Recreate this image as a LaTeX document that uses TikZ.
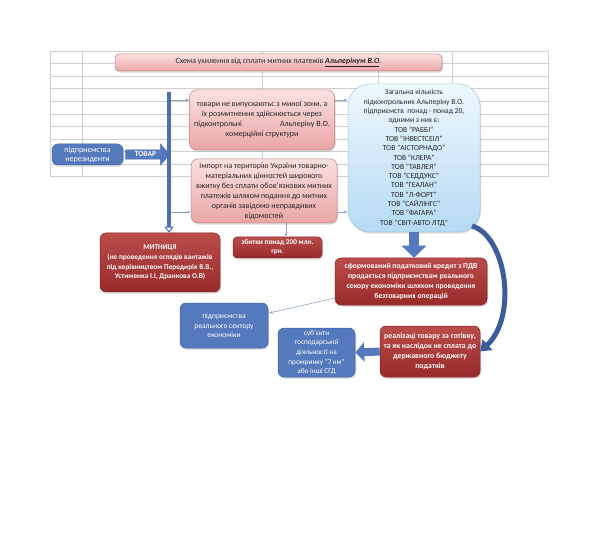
\documentclass[tikz,border=0pt]{standalone}
\usepackage{fontspec}
\setmainfont{Carlito}
\usetikzlibrary{arrows.meta,shapes.arrows,shadows,calc}
\definecolor{pinktop}{HTML}{FBE1E1}
\definecolor{pinkbot}{HTML}{EBA5A6}
\definecolor{pinkborder}{HTML}{C27C7C}
\definecolor{lbtop}{HTML}{EEF8FE}
\definecolor{lbbot}{HTML}{B5DAF4}
\definecolor{lbborder}{HTML}{9FC4DF}
\definecolor{redtop}{HTML}{BA4C4A}
\definecolor{redbot}{HTML}{982A2A}
\definecolor{redborder}{HTML}{8C2424}
\definecolor{bluefill}{HTML}{5479BD}
\definecolor{blueborder}{HTML}{3F629F}
\definecolor{barblue}{HTML}{4C70B4}
\definecolor{navyarr}{HTML}{3D5C9C}
\definecolor{thinarr}{HTML}{8DA3C3}
\definecolor{gridcol}{HTML}{CFCFCF}
\tikzset{
  gridline/.style={draw=gridcol, line width=0.6pt},
  shad/.style={drop shadow={opacity=0.3, shadow xshift=1pt, shadow yshift=-1.6pt}},
  pinkbox/.style={draw=pinkborder, line width=0.5pt, rounded corners=7pt, top color=pinktop, bottom color=pinkbot, align=center, inner sep=2pt, text=black!85, font=\fontsize{8}{10}\selectfont, shad},
  lbbox/.style={draw=lbborder, line width=0.5pt, rounded corners=22pt, top color=lbtop, bottom color=lbbot, align=center, inner sep=2pt, text=black!85, font=\fontsize{7.6}{9.3}\selectfont, shad},
  redbox/.style={draw=redborder, line width=0.5pt, rounded corners=6pt, top color=redtop, bottom color=redbot, align=center, inner sep=2pt, text=white, font=\fontsize{7.3}{9.6}\selectfont\bfseries, shad},
  bluebox/.style={draw=blueborder, line width=0.5pt, rounded corners=6pt, fill=bluefill, align=center, inner sep=2pt, text=white, font=\fontsize{7.5}{9.8}\selectfont, shad},
  thinarrow/.style={draw=thinarr, line width=0.6pt, -{Stealth[length=4pt,width=3pt]}},
}
\begin{document}
\begin{tikzpicture}[x=1pt,y=-1pt]
\useasboundingbox (0,0) rectangle (600,556);
% spreadsheet grid
\foreach \k in {0,...,10} \draw[gridline] (50,{51+12.57*\k}) -- (548,{51+12.57*\k});
\foreach \xx in {50,82,262,378,452,548} \draw[gridline] (\xx,51) -- (\xx,176.7);

% title
\node[pinkbox, rounded corners=4pt, minimum width=327pt, minimum height=17pt, font=\fontsize{7.9}{9.5}\selectfont] (title) at (278.5,62.5)
  {Схема ухилення від сплати митних платежів \textbf{\textit{\underline{Альперінум В.О}}}.};

% left
\node[bluebox, minimum width=71pt, minimum height=21pt, font=\fontsize{8}{9}\selectfont] (nonres) at (87.5,154.5)
  {підприємства\\нерезиденти};
\node[single arrow, fill=bluefill, draw=blueborder, line width=0.4pt, minimum height=44pt, minimum width=21pt,
  single arrow head extend=4.5pt, single arrow tip angle=100, inner sep=1pt, text=white,
  font=\fontsize{7.5}{9}\selectfont\bfseries] (tovar) at (145.5,154.5) {ТОВАР\hspace{4pt}};

% main boxes
\node[pinkbox, minimum width=145pt, minimum height=60pt] (box1) at (262,120)
  {товари не випускаютьс з миної зони, а\\їх розмитнення здійснюється через\\підконтрольні\hspace{38pt}Альперіну В.О.\\комерційні структури};
\node[pinkbox, minimum width=146pt, minimum height=64pt] (box2) at (264,191)
  {імпорт на територію України товарно-\\матеріальних цінностей широкого\\вжитку без сплати обовʼязкових митних\\платежів шляхом подання до митних\\органів завідомо неправдивих\\відомостей};
\node[lbbox, minimum width=132pt, minimum height=148pt] (blue) at (414,158)
  {Загальна кількість\\підконтрольних Альперіну В.О.\\підприємств\ \ понад - понад 20,\\одними з них є:\\ТОВ "РАББІ"\\ТОВ "ІНВЕСТСЕІЛ"\\ТОВ "АІСТОРНАДО"\\ТОВ "КЛЕРА"\\ТОВ "ТАВЛЕЯ"\\ТОВ "СЕДДУКС"\\ТОВ "ГЕАЛАН"\\ТОВ "Л-ФОРТ"\\ТОВ "САЙЛІНГС"\\ТОВ "ФАГАРА"\\ТОВ "СВІТ-АВТО ЛТД"};

\node[redbox, minimum width=120pt, minimum height=59pt] (mytn) at (160,262.5)
  {МИТНИЦЯ\\(не проведення оглядів вантажів\\під керівництвом Передирія В.В.,\\Устименка І.І, Дранкова О.В)};
\node[redbox, minimum width=89pt, minimum height=21pt, rounded corners=4pt, font=\fontsize{7.3}{9}\selectfont\bfseries] (loss) at (277.5,247.5)
  {збитки понад 200 млн.\\грн.};
\node[redbox, minimum width=152pt, minimum height=47pt, font=\fontsize{7.6}{9.8}\selectfont\bfseries] (credit) at (411,281.5)
  {сформований податковий кредит з ПДВ\\продається підприємствам реального\\секору економіки шляхом проведення\\безтоварних операцій};
\node[redbox, minimum width=100pt, minimum height=51pt, font=\fontsize{7.8}{9.8}\selectfont\bfseries] (real) at (430,351.5)
  {реалізаці товару за готівку,\\та як наслідок не сплата до\\державного бюджету\\податків};
\node[bluebox, minimum width=77pt, minimum height=49pt, font=\fontsize{7.3}{9.6}\selectfont] (subj) at (316.5,352.5)
  {субʼєкти\\господарської\\діяльності на\\промринку "7 км"\\або інші СГД};
\node[bluebox, minimum width=88pt, minimum height=45pt] (realsec) at (224,325.5)
  {підприємства\\реального сектору\\економіки};

% vertical bar
\coordinate (bartop) at (169,92);
\draw[barblue, line width=4pt, -{Triangle[open, length=6pt, width=9pt, line width=1pt]}] (bartop) -- (bartop |- mytn.north);

% thin arrows
\coordinate (b1) at (171,100);
\coordinate (b2) at (171,212);
\draw[thinarrow] (b1) -- (b1 -| box1.west);
\draw[thinarrow] (b2) -- (b2 -| box2.west);
\draw[thinarrow] (b1 -| box1.east) -- (b1 -| blue.west);
\draw[thinarrow] (b2 -| box2.east) -- (b2 -| blue.west);
\coordinate (l1) at (286,0);
\draw[thinarrow] (l1 |- box2.south) -- (l1 |- loss.north);
\coordinate (c1) at (335,298);
\coordinate (r1) at (269,313);
\draw[thinarrow] (c1) -- (r1);

% big down arrow
\draw[bluefill, line width=10pt, -{Triangle[length=12pt, width=24pt]}] (blue.south) -- (blue.south |- credit.north);

% curved arrow
\coordinate (cs) at (472,226);
\draw[navyarr, line width=5pt, -{Triangle[length=10pt, width=14pt]}] (cs) .. controls (506,236) and (518,316) .. (real.east);

% left block arrow
\draw[bluefill, line width=8pt, -{Triangle[length=9pt, width=19pt]}] (real.west) -- (subj.east);
\end{tikzpicture}
\end{document}
